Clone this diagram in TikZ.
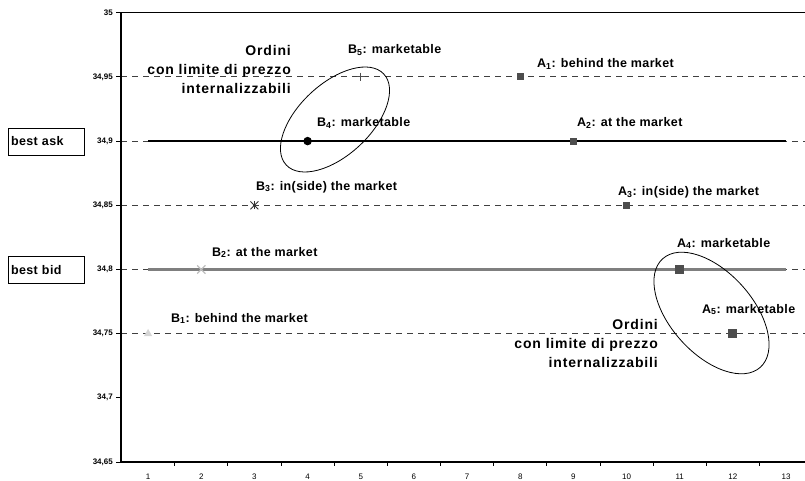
\documentclass[tikz,border=0pt]{standalone}
\usepackage{fontspec}
\setmainfont{Liberation Sans}
\newfontfamily\lblfont[LetterSpace=3]{Liberation Sans}
\newfontfamily\ordfont[LetterSpace=6]{Liberation Sans}
\usetikzlibrary{shapes.geometric,shapes.misc}
\definecolor{mkdark}{HTML}{4D4D4D}
\definecolor{mklight}{HTML}{BDBDBD}
\definecolor{mkpale}{HTML}{D6D6D6}
\definecolor{bidgray}{HTML}{7F7F7F}
\begin{document}
\begin{tikzpicture}
[x=1pt,y=-1pt,
  gridline/.style={draw=black!75,line width=0.8pt,dash pattern=on 6pt off 5pt},
  axisline/.style={draw=black,line width=1.3pt},
  askline/.style={draw=black,line width=2.6pt},
  bidline/.style={draw=bidgray,line width=3pt},
  asquare/.style={shape=rectangle,fill=mkdark,inner sep=0pt,minimum size=7pt},
  btri/.style={shape=regular polygon,regular polygon sides=3,fill=mkpale,inner sep=0pt,minimum size=9.5pt},
  bcross/.style={shape=cross out,draw=mklight,line width=1.2pt,inner sep=0pt,minimum size=7pt},
  bstar/.style={shape=cross out,draw=black!80,line width=0.9pt,inner sep=0pt,minimum size=7pt},
  bdot/.style={shape=circle,fill=black,inner sep=0pt,minimum size=8.5pt},
  bplus/.style={shape=rectangle,inner sep=0pt,minimum size=8pt},
  ptlabel/.style={anchor=base west,inner sep=0pt,font=\lblfont\bfseries\fontsize{12.5}{14}\selectfont},
  ordtext/.style={anchor=north east,align=right,inner sep=0pt,font=\ordfont\bfseries\fontsize{14}{19}\selectfont},
  ellipsering/.style={shape=ellipse,draw=black,line width=0.8pt,inner sep=0pt},
  sidebox/.style={draw=black,line width=0.8pt,text width=70pt,align=left,inner xsep=3pt,minimum height=27pt,font=\lblfont\bfseries\fontsize{12.5}{14}\selectfont}]
\useasboundingbox (0,0) rectangle (805,481);
% price levels (dashed)
\foreach \py in {76.9,141.1,205.3,269.5,333.7}
  \draw[gridline] (121,\py) -- (805,\py);
% best ask and best bid
\coordinate (ask1) at (148.1,141.1);
\coordinate (ask13) at (786,141.1);
\coordinate (bid1) at (148.1,269.5);
\coordinate (bid13) at (786,269.5);
\draw[askline] (ask1) -- (ask13);
\draw[bidline] (bid1) -- (bid13);
% axes
\draw[axisline] (121,12.8) -- (121,462) -- (805,462);
\draw[draw=black,line width=0.8pt] (121,12.8) -- (805,12.8);
\foreach \py/\plab in {12.8/35,76.9/{34,95},141.1/{34,9},205.3/{34,85},269.5/{34,8},333.7/{34,75},397.8/{34,7},462/{34,65}}
{
  \draw[black,line width=0.8pt] (116,\py) -- (121,\py);
  \node[anchor=east,inner sep=1pt,font=\bfseries\fontsize{8}{9}\selectfont] at (114,\py) {\plab};
}
\foreach \k in {1,...,12}
  \draw[black,line width=0.8pt] (121.5+53.16*\k,462) -- (121.5+53.16*\k,466);
\foreach \k in {1,...,13}
  \node[inner sep=0pt,font=\fontsize{8}{9}\selectfont] at (148.1+53.16*\k-53.16,477) {\k};
% side boxes
\node[sidebox] (bestask) at (46,141.5) {best ask};
\node[sidebox] (bestbid) at (46,270) {best bid};
% sell orders A
\node[asquare] (A1) at (520.2,76.9) {};
\node[asquare] (A2) at (573.4,141.1) {};
\node[asquare] (A3) at (626.5,205.3) {};
\node[asquare,minimum size=9pt] (A4) at (679.7,269.5) {};
\node[asquare,minimum size=9pt] (A5) at (732.9,333.7) {};
% buy orders B
\node[btri] (B1) at (148.1,333.7) {};
\node[bcross] (B2) at (201.3,269.5) {};
\node[bstar] (B3) at (254.4,205.3) {};
\draw[draw=black!80,line width=0.9pt] (B3.north) -- (B3.south);
\node[bdot] (B4) at (307.6,141.1) {};
\node[bplus] (B5) at (360.7,76.9) {};
\draw[draw=mkdark,line width=0.9pt] (B5.north) -- (B5.south) (B5.west) -- (B5.east);
% labels
\node[ptlabel] (lblA1) at (537,68) {A\textsubscript{1}: behind the market};
\node[ptlabel] (lblA2) at (577,127) {A\textsubscript{2}: at the market};
\node[ptlabel] (lblA3) at (618,196) {A\textsubscript{3}: in(side) the market};
\node[ptlabel] (lblA4) at (677,247) {A\textsubscript{4}: marketable};
\node[ptlabel] (lblA5) at (702,313) {A\textsubscript{5}: marketable};
\node[ptlabel] (lblB1) at (171,322) {B\textsubscript{1}: behind the market};
\node[ptlabel] (lblB2) at (212,256) {B\textsubscript{2}: at the market};
\node[ptlabel] (lblB3) at (256,190) {B\textsubscript{3}: in(side) the market};
\node[ptlabel] (lblB4) at (317,127) {B\textsubscript{4}: marketable};
\node[ptlabel] (lblB5) at (348,54) {B\textsubscript{5}: marketable};
% internalizable orders
\node[ellipsering,minimum width=133.4pt,minimum height=71.6pt,rotate=43] (ordB) at (335,119.5) {};
\node[ellipsering,minimum width=146pt,minimum height=82pt,rotate=-48] (ordA) at (711.5,313) {};
\node[ordtext] (ordBtxt) at (291,45) {Ordini\\con limite di prezzo\\internalizzabili};
\node[ordtext] (ordAtxt) at (658,319) {Ordini\\con limite di prezzo\\internalizzabili};
\end{tikzpicture}
\end{document}
